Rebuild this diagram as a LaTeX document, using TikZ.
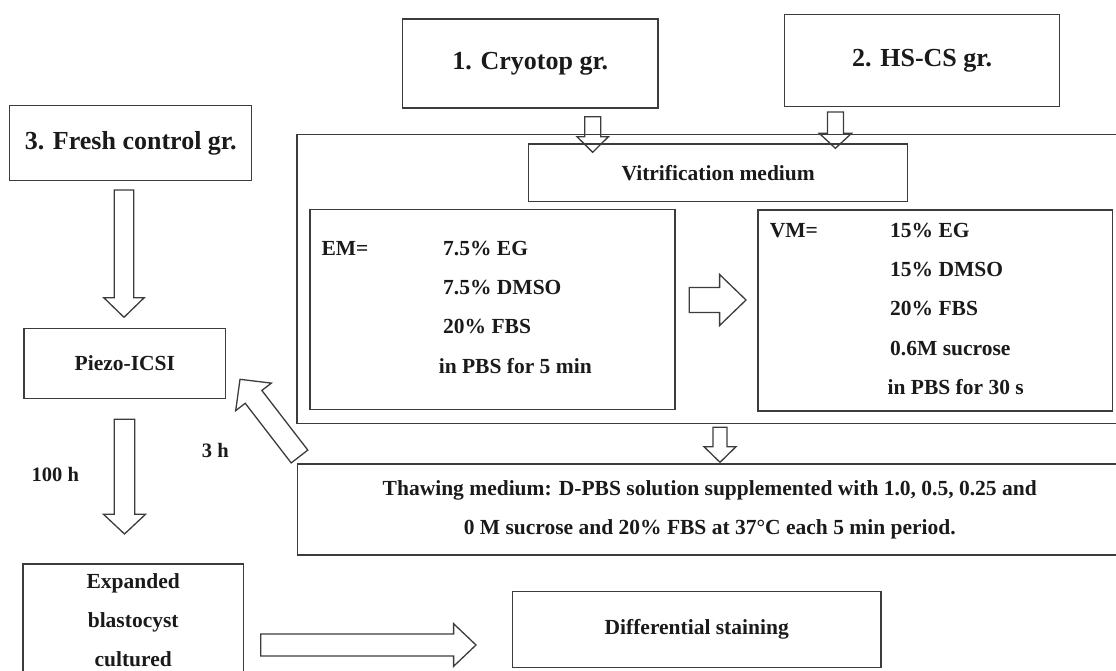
\documentclass[tikz,border=0pt]{standalone}
\usepackage{fontspec}
\setmainfont{Liberation Serif}
\usetikzlibrary{calc}

\definecolor{inkgray}{HTML}{3C3C3C}
\definecolor{txtblack}{HTML}{1A1A1A}

% hollow block arrow: tail, tip, half shaft width, half head width, head length
\newcommand{\fatarrow}[5]{%
  \draw[fatline] let \p1=(#1), \p2=(#2), \n1={atan2(\y2-\y1,\x2-\x1)},
      \n2={veclen(\x2-\x1,\y2-\y1)-#5pt} in
    ($(\p1)+(\n1+90:#3pt)$) -- ($(\p1)+(\n1:\n2)+(\n1+90:#3pt)$)
    -- ($(\p1)+(\n1:\n2)+(\n1+90:#4pt)$) -- (\p2)
    -- ($(\p1)+(\n1:\n2)+(\n1-90:#4pt)$) -- ($(\p1)+(\n1:\n2)+(\n1-90:#3pt)$)
    -- ($(\p1)+(\n1-90:#3pt)$) -- cycle;}

\begin{document}
\begin{tikzpicture}[x=1pt,y=-1pt,
  box/.style={draw=inkgray,line width=1.3pt,inner sep=0pt,text=txtblack,
    font=\bfseries\fontsize{21.5}{39}\selectfont,align=center},
  head/.style={box,font=\bfseries\fontsize{26}{30}\selectfont},
  txt/.style={inner sep=0pt,text=txtblack,font=\bfseries\fontsize{21.5}{25}\selectfont,
    text height=14pt,text depth=4pt},
  fatline/.style={draw=inkgray,line width=1.3pt,line join=miter}]
\useasboundingbox (0,0) rectangle (1116,671);
\clip (0,0) rectangle (1116,671);

% groups
\node[head,minimum width=255.5pt,minimum height=89pt] (cryo) at (530.3,63.5) {1. Cryotop gr.};
\node[head,minimum width=275pt,minimum height=92pt] (hscs) at (922.1,60.7) {2. HS-CS gr.};
\node[head,minimum width=242pt,minimum height=74.6pt] (fresh) at (130.7,143) {3. Fresh control gr.};

% vitrification block
\node[box,minimum width=825pt,minimum height=288.6pt] (outer) at (709.5,279) {};
\node[box,minimum width=379pt,minimum height=57.3pt] (vmed) at (718.2,172.7) {Vitrification medium};
\node[box,minimum width=365pt,minimum height=200pt] (em) at (492.5,309.3) {};
\node[box,minimum width=354.4pt,minimum height=201pt] (vm) at (935.2,310.5) {};
\node[txt,anchor=west] (emlab) at (321.4,250) {EM=};
\foreach \t [count=\i] in {7.5\% EG,7.5\% DMSO,20\% FBS}
  \node[txt,anchor=west] (em\i) at (443,{210.6+39.4*\i}) {\t};
\node[txt,anchor=west] (em4) at (438.6,368.3) {in PBS for 5 min};
\node[txt,anchor=west] (vmlab) at (769.6,232.3) {VM=};
\foreach \t [count=\i] in {15\% EG,15\% DMSO,20\% FBS,0.6M sucrose}
  \node[txt,anchor=west] (vm\i) at (890,{193+39.25*\i}) {\t};
\node[txt,anchor=west] (vm5) at (887.4,389.3) {in PBS for 30 s};

\node[box,minimum width=824.5pt,minimum height=91pt] (thaw) at (709.75,509.5)
  {Thawing medium: D-PBS solution supplemented with 1.0, 0.5, 0.25 and\\
   0 M sucrose and 20\% FBS at 37\textdegree C each 5 min period.};

% embryo side
\node[box,minimum width=201.7pt,minimum height=70pt] (piezo) at (124.9,363.3) {Piezo-ICSI};
\node[box,minimum width=220.5pt,minimum height=113pt] (expd) at (133.2,620.6)
  {Expanded\\blastocyst\\cultured};
\node[box,minimum width=368.5pt,minimum height=75.6pt] (diff) at (696.7,629.5) {Differential staining};

\node[txt,font=\bfseries\fontsize{20.5}{24}\selectfont] (t100) at (55.3,476.7) {100 h};
\node[txt,font=\bfseries\fontsize{20.5}{24}\selectfont] (t3) at (215.3,452.7) {3 h};

% arrow ends
\coordinate (a1) at (124,190);     \coordinate (b1) at (124,317.3);
\coordinate (a2) at (592.7,116.7); \coordinate (b2) at (592.7,152.3);
\coordinate (a3) at (835.4,112);   \coordinate (b3) at (835.4,148.3);
\coordinate (a4) at (689.2,300);   \coordinate (b4) at (746,300);
\coordinate (a5) at (720,427.3);   \coordinate (b5) at (720,462.3);
\coordinate (a6) at (299.5,456.5); \coordinate (b6) at (240,379.3);
\coordinate (a7) at (124.5,419.3); \coordinate (b7) at (124.5,534);
\coordinate (a8) at (260.7,645);   \coordinate (b8) at (476,645);

\fatarrow{a1}{b1}{9.7}{20.2}{19.6}
\fatarrow{a2}{b2}{8}{15.7}{15.6}
\fatarrow{a3}{b3}{8}{16.2}{15}
\fatarrow{a4}{b4}{12.5}{25.5}{26.4}
\fatarrow{a5}{b5}{7}{16}{15.6}
\fatarrow{a6}{b6}{10.5}{22.5}{22}
\fatarrow{a7}{b7}{10.3}{21}{19.7}
\fatarrow{a8}{b8}{11}{21.3}{22.4}
\end{tikzpicture}
\end{document}
